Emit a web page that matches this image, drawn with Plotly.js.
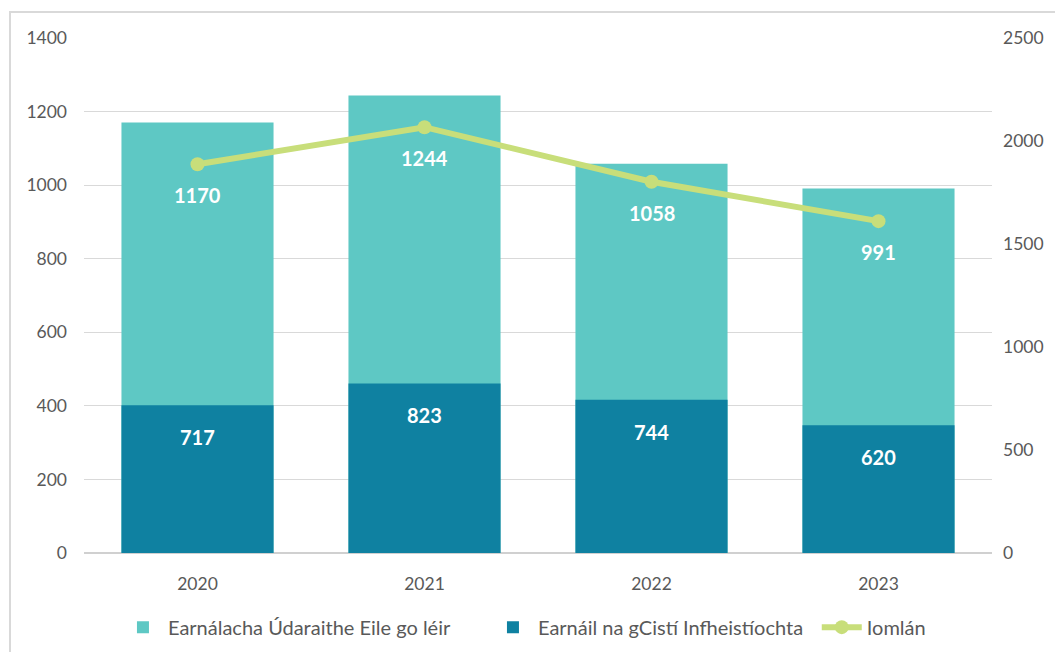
<!DOCTYPE html>
<html>
<head>
<meta charset="utf-8">
<script src="https://cdn.plot.ly/plotly-3.0.1.min.js"></script>
<style>html,body{margin:0;padding:0;background:#fff;}#chart{width:1055px;height:652px;}</style>
</head>
<body>
<div id="chart"></div>
<script>
const years = [2020, 2021, 2022, 2023];
const yearLabels = ['2020', '2021', '2022', '2023'];
const otherSectors = [1170, 1244, 1058, 991];
const fundSector = [717, 823, 744, 620];
const totals = [1887, 2067, 1802, 1611];
const seriesNames = ['Earnálacha Údaraithe Eile go léir', 'Earnáil na gCistí Infheistíochta', 'Iomlán'];

const traces = [
  {type: 'bar', name: seriesNames[0], x: years, y: otherSectors, yaxis: 'y',
   marker: {color: '#5ec8c4'}, width: 0.67, legend: 'legend'},
  {type: 'bar', name: seriesNames[1], x: years, y: fundSector, yaxis: 'y2',
   marker: {color: '#0f81a1'}, width: 0.67, legend: 'legend'},
  {type: 'scatter', mode: 'lines+markers', name: seriesNames[2], x: years, y: totals, yaxis: 'y2',
   line: {color: '#c8de7a', width: 6}, marker: {color: '#c8de7a', size: 14}, legend: 'legend2'}
];

const annotations = [];
years.forEach((yr, i) => {
  annotations.push({x: yr, y: totals[i], xref: 'x', yref: 'y2', text: '<b>' + otherSectors[i] + '</b>',
    showarrow: false, yshift: -31, font: {family: 'Lato', size: 20, color: '#ffffff'}});
  annotations.push({x: yr, y: fundSector[i], xref: 'x', yref: 'y2', text: '<b>' + fundSector[i] + '</b>',
    showarrow: false, yshift: -32, font: {family: 'Lato', size: 20, color: '#ffffff'}});
});

const legendFont = {family: 'Lato', size: 20, color: '#595959'};

const layout = {
  width: 1055, height: 652,
  margin: {l: 84, r: 63, t: 38, b: 99, autoexpand: false},
  paper_bgcolor: '#ffffff', plot_bgcolor: '#ffffff',
  font: {family: 'Lato', color: '#595959', size: 17},
  barmode: 'overlay',
  showlegend: true,
  legend: {orientation: 'h', x: 0.0374, xanchor: 'left', y: -0.144, yanchor: 'middle',
    font: legendFont, itemwidth: 40, traceorder: 'normal',
    entrywidth: 315, entrywidthmode: 'pixels'},
  legend2: {orientation: 'h', x: 0.807, xanchor: 'left', y: -0.144, yanchor: 'middle',
    font: legendFont, itemwidth: 40},
  xaxis: {range: [2019.5, 2023.5], tickvals: years, ticktext: yearLabels, showgrid: false,
    showline: false, ticks: '', zeroline: false, ticklabelstandoff: 18,
    tickfont: {family: 'Lato', size: 17.5, color: '#595959'}},
  yaxis: {range: [0, 1400], dtick: 200, showgrid: true, gridcolor: '#d9d9d9', gridwidth: 1,
    zeroline: true, zerolinecolor: '#d0d0d0', zerolinewidth: 2, showline: false, ticks: '',
    ticklabelstandoff: 16, tickfont: {family: 'Lato', size: 17.5, color: '#595959'}},
  yaxis2: {range: [0, 2500], dtick: 500, overlaying: 'y', side: 'right', showgrid: false,
    zeroline: false, showline: false, ticks: '', ticklabelstandoff: 10,
    tickfont: {family: 'Lato', size: 17.5, color: '#595959'}},
  annotations: annotations,
  shapes: [{type: 'rect', xref: 'paper', yref: 'paper', x0: -0.0815, x1: 1.08, y0: -0.22, y1: 1.0506,
    line: {color: '#d9d9d9', width: 2}, fillcolor: 'rgba(0,0,0,0)', layer: 'below'}]
};

Plotly.newPlot('chart', traces, layout, {displayModeBar: false, staticPlot: true});
</script>
</body>
</html>
